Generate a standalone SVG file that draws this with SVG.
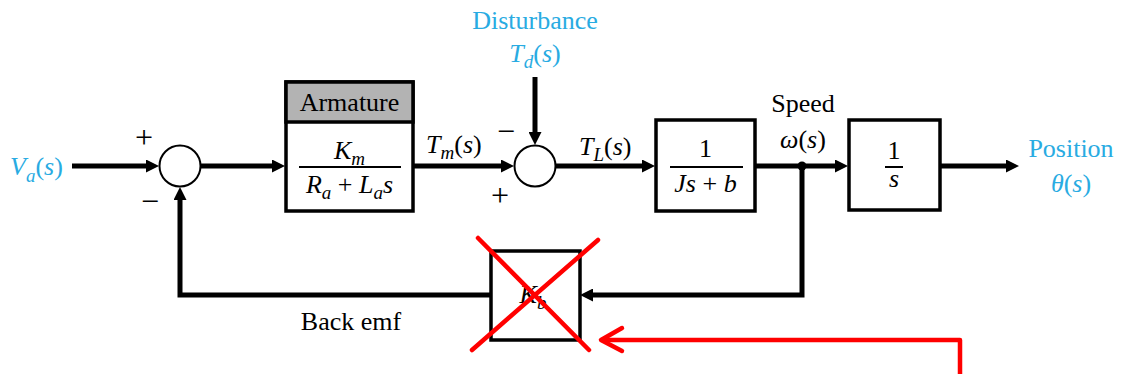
<svg xmlns="http://www.w3.org/2000/svg" width="1122" height="374" viewBox="0 0 1122 374" font-family="'Liberation Serif', 'Times New Roman', Times, 'DejaVu Serif', serif">
<defs>
<style>
text{font-family:'Liberation Serif','Times New Roman',Times,'DejaVu Serif',serif;font-size:26px;fill:#000}
.b{fill:#29abe2}
.i{font-style:italic}
.sub{font-size:19px;font-style:italic}
.pm{font-size:32px}
.box{fill:#fff;stroke:#000;stroke-width:3.5}
.sum{fill:#fff;stroke:#000;stroke-width:2}
.wire{fill:none;stroke:#000;stroke-width:5;marker-end:url(#ah)}
.frac{stroke:#000;stroke-width:2}
.red{fill:none;stroke:#ff0000;stroke-width:4.5;stroke-linecap:round;stroke-linejoin:round}
</style>
<marker id="ah" markerUnits="userSpaceOnUse" markerWidth="13" markerHeight="13" refX="4" refY="6.5" orient="auto">
<path d="M0,0 L13,6.5 L0,13 z" fill="#000"/>
</marker>
</defs>
<rect width="1122" height="374" fill="#fff"/>

<g id="connectors">
<path class="wire" d="M72,166 H150"/>
<path class="wire" d="M201,166 H276"/>
<path class="wire" d="M413,166 H505"/>
<path class="wire" d="M535,77 V136"/>
<path class="wire" d="M556,166 H646"/>
<path class="wire" d="M755,166 H839"/>
<path class="wire" d="M940,166 H1010"/>
<path class="wire" d="M802,166 V295 H589"/>
<path class="wire" d="M490,295 H180 V196"/>
<circle cx="802" cy="166" r="4.5" fill="#000"/>
</g>

<g id="input">
<text class="b" x="10" y="175"><tspan class="i">V</tspan><tspan class="sub" dy="7">a</tspan><tspan dy="-7">(</tspan><tspan class="i">s</tspan>)</text>
</g>

<g id="sum1">
<circle class="sum" cx="180" cy="166" r="20.5"/>
<text class="pm" x="144" y="148" text-anchor="middle">+</text>
<text class="pm" x="150" y="212" text-anchor="middle">−</text>
</g>

<g id="armature">
<rect class="box" x="286" y="82" width="127" height="129"/>
<rect x="286" y="82" width="127" height="40" fill="#b3b3b3" stroke="#000" stroke-width="3.5"/>
<text x="349.5" y="111" text-anchor="middle">Armature</text>
<text x="349.5" y="159" text-anchor="middle"><tspan class="i">K</tspan><tspan class="sub" dy="6">m</tspan></text>
<line class="frac" x1="299" y1="167" x2="401" y2="167"/>
<text x="349.5" y="193" text-anchor="middle"><tspan class="i">R</tspan><tspan class="sub" dy="6">a</tspan><tspan dy="-6"> + </tspan><tspan class="i">L</tspan><tspan class="sub" dy="6">a</tspan><tspan class="i" dy="-6">s</tspan></text>
</g>

<g id="tm-label">
<text x="426" y="153"><tspan class="i">T</tspan><tspan class="sub" dy="6">m</tspan><tspan dy="-6">(</tspan><tspan class="i">s</tspan>)</text>
</g>

<g id="disturbance">
<text class="b" x="535" y="29" text-anchor="middle">Disturbance</text>
<text class="b" x="535" y="62" text-anchor="middle"><tspan class="i">T</tspan><tspan class="sub" dy="6">d</tspan><tspan dy="-6">(</tspan><tspan class="i">s</tspan>)</text>
</g>

<g id="sum2">
<circle class="sum" cx="535" cy="166" r="20.5"/>
<text class="pm" x="506" y="142" text-anchor="middle">−</text>
<text class="pm" x="500" y="206" text-anchor="middle">+</text>
</g>

<g id="tl-label">
<text x="579" y="155"><tspan class="i">T</tspan><tspan class="sub" dy="6">L</tspan><tspan dy="-6">(</tspan><tspan class="i">s</tspan>)</text>
</g>

<g id="load">
<rect class="box" x="656" y="120" width="99" height="91"/>
<text x="705.5" y="157" text-anchor="middle">1</text>
<line class="frac" x1="670" y1="167" x2="743" y2="167"/>
<text x="705.5" y="192" text-anchor="middle"><tspan class="i">Js</tspan> + <tspan class="i">b</tspan></text>
</g>

<g id="speed">
<text x="803" y="112" text-anchor="middle">Speed</text>
<text x="803" y="148" text-anchor="middle"><tspan class="i">ω</tspan>(<tspan class="i">s</tspan>)</text>
</g>

<g id="integrator">
<rect class="box" x="849" y="120" width="91" height="90"/>
<text x="894" y="159" text-anchor="middle">1</text>
<line class="frac" x1="885" y1="167" x2="903" y2="167"/>
<text class="i" x="894" y="187" text-anchor="middle">s</text>
</g>

<g id="output">
<text class="b" x="1071" y="157" text-anchor="middle">Position</text>
<text class="b" x="1071" y="192" text-anchor="middle"><tspan class="i">θ</tspan>(<tspan class="i">s</tspan>)</text>
</g>

<g id="kb">
<rect class="box" x="491" y="251" width="89" height="89"/>
<text x="533" y="303" text-anchor="middle"><tspan class="i">K</tspan><tspan class="sub" dy="6">b</tspan></text>
</g>

<g id="back-emf">
<text x="351" y="330" text-anchor="middle">Back emf</text>
</g>

<g id="red-mark">
<line class="red" x1="478" y1="238" x2="589" y2="350"/>
<line class="red" x1="598" y1="240" x2="472" y2="350"/>
<path class="red" d="M960,376 V340 H602"/>
<path class="red" d="M622,328 L601,340 L622,351"/>
</g>
</svg>
